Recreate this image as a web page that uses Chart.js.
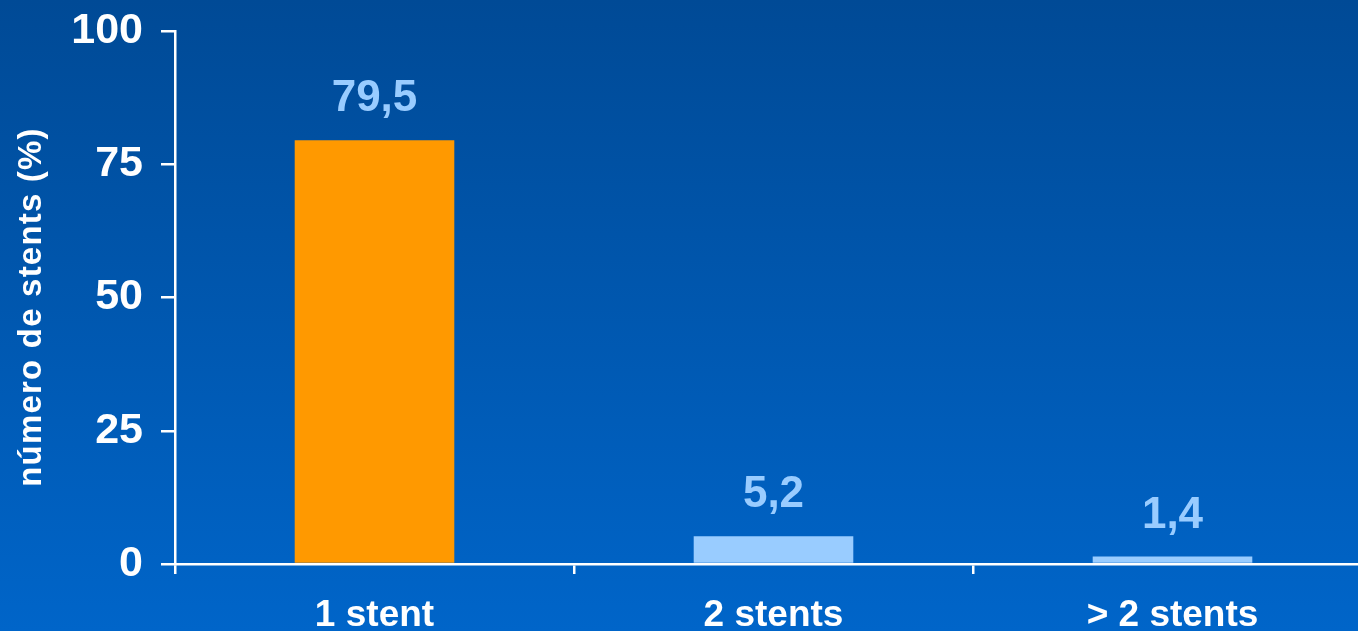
<!DOCTYPE html>
<html>
<head>
<meta charset="utf-8">
<script src="https://cdn.jsdelivr.net/npm/chart.js@4/dist/chart.umd.min.js"></script>
<style>
    html, body { margin: 0; padding: 0; overflow: hidden; background: #0058b0; }
    #wrap { position: absolute; left: 0; top: 0; width: 1372px; height: 631px; }
</style>
</head>
<body>
<div id="wrap"><canvas id="myChart" width="1372" height="631"></canvas></div>
<script>
const categories = ["1 stent", "2 stents", "> 2 stents"];
const stentValues = [79.5, 5.2, 1.4];
const barColors = ["#FF9900", "#99CCFF", "#99CCFF"];
const yTicks = [0, 25, 50, 75, 100];
const yTitle = "número de stents (%)";

const bgPlugin = {
    id: "bg",
    beforeDraw(chart) {
        const ctx = chart.ctx;
        const g = ctx.createLinearGradient(0, 0, 0, chart.height);
        g.addColorStop(0, "#004a96");
        g.addColorStop(1, "#0065c9");
        ctx.save();
        ctx.fillStyle = g;
        ctx.fillRect(0, 0, chart.width, chart.height);
        ctx.restore();
    }
};

const labelPlugin = {
    id: "valueLabels",
    afterDatasetsDraw(chart) {
        const ctx = chart.ctx;
        const meta = chart.getDatasetMeta(0);
        ctx.save();
        ctx.fillStyle = "#99CCFF";
        ctx.font = "bold 44px 'Liberation Sans', Arial, sans-serif";
        ctx.textAlign = "center";
        ctx.textBaseline = "middle";
        meta.data.forEach(function (bar, i) {
            var txt = stentValues[i].toFixed(1).replace(".", ",");
            ctx.fillText(txt, bar.x, bar.y - 41);
        });
        // y axis title, rotated
        ctx.fillStyle = "#ffffff";
        ctx.font = "bold 33px 'Liberation Sans', Arial, sans-serif";
        ctx.letterSpacing = "1.2px";
        ctx.translate(32, 307);
        ctx.rotate(-Math.PI / 2);
        ctx.fillText(yTitle, 0, 0);
        ctx.restore();
    }
};

const data = {
    labels: categories,
    datasets: [
        {
            data: stentValues,
            backgroundColor: barColors,
            borderWidth: 0,
            categoryPercentage: 1.0,
            barPercentage: 0.4
        }
    ]
};

const config = {
    type: "bar",
    data: data,
    options: {
        responsive: false,
        animation: false,
        layout: { padding: { top: 31, right: 0, left: 0, bottom: 0 } },
        plugins: {
            legend: { display: false },
            tooltip: { enabled: false }
        },
        scales: {
            y: {
                min: 0,
                max: 100,
                afterBuildTicks(scale) {
                    scale.ticks = yTicks.map(v => ({ value: v }));
                },
                afterFit(scale) {
                    scale.width = 175;
                    scale.paddingTop = 0;
                    scale.paddingBottom = 0;
                },
                border: { display: true, color: "#ffffff", width: 2.5 },
                grid: {
                    drawOnChartArea: false,
                    color: "#ffffff",
                    lineWidth: 2.5,
                    tickLength: 14
                },
                ticks: {
                    color: "#ffffff",
                    padding: 18,
                    font: { family: "'Liberation Sans', Arial, sans-serif", size: 43, weight: "bold" }
                }
            },
            x: {
                afterFit(scale) { scale.height = 67; },
                border: { display: true, color: "#ffffff", width: 2.5 },
                grid: {
                    drawOnChartArea: false,
                    color: "#ffffff",
                    lineWidth: 2.5,
                    tickLength: 10
                },
                ticks: {
                    color: "#ffffff",
                    padding: 20,
                    maxRotation: 0,
                    font: { family: "'Liberation Sans', Arial, sans-serif", size: 37, weight: "bold" }
                }
            }
        }
    },
    plugins: [bgPlugin, labelPlugin]
};

window.mychart = new Chart(document.getElementById("myChart"), config);
</script>
</body>
</html>
